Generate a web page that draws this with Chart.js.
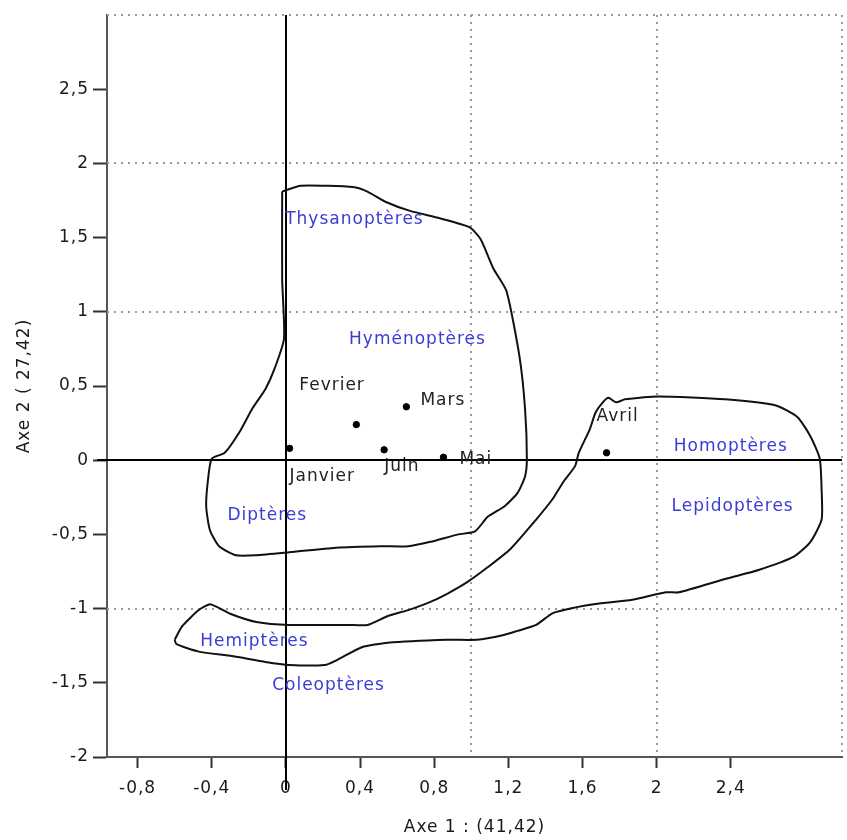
<!DOCTYPE html>
<html>
<head>
<meta charset="utf-8">
<script src="https://cdn.jsdelivr.net/npm/chart.js@4"></script>
<style>
  body { margin: 0; background: #fff; }
  #wrap { width: 847px; height: 840px; }
</style>
</head>
<body>
<div id="wrap"><canvas id="chart"></canvas></div>
<script>
// months (rows) - coordinates on axes 1 and 2
var months = ["Janvier", "Fevrier", "Mars", "Avril", "Mai", "Juin"];
var monthX = [0.02, 0.38, 0.65, 1.73, 0.85, 0.53];
var monthY = [0.08, 0.24, 0.36, 0.05, 0.02, 0.07];

// insect orders (columns)
var orders = ["Thysanoptères", "Hyménoptères", "Homoptères", "Lepidoptères", "Diptères", "Hemiptères", "Coleoptères"];
var orderX = [0.37, 0.71, 2.40, 2.41, -0.10, -0.17, 0.23];
var orderY = [1.62, 0.81, 0.09, -0.31, -0.37, -1.22, -1.52];

// outline of the first group
var hullAX = [-0.02, 0.08, 0.37, 0.44, 0.54, 0.67, 0.83, 0.99, 1.05, 1.12, 1.19, 1.26, 1.29, 1.30, 1.29, 1.25, 1.18, 1.09, 1.02, 0.93,
              0.78, 0.66, 0.51, 0.27, 0.02, -0.16, -0.27, -0.36, -0.41, -0.43, -0.42, -0.40, -0.33, -0.25, -0.18, -0.11, -0.06, -0.01, -0.02];
var hullAY = [1.81, 1.85, 1.84, 1.81, 1.74, 1.68, 1.63, 1.57, 1.49, 1.29, 1.14, 0.70, 0.35, 0.01, -0.11, -0.22, -0.31, -0.38, -0.48, -0.50,
              -0.55, -0.58, -0.58, -0.59, -0.62, -0.64, -0.64, -0.58, -0.47, -0.31, -0.13, 0.01, 0.05, 0.19, 0.35, 0.48, 0.62, 0.82, 1.22];

// outline of the second group
var hullBX = [-0.60, -0.56, -0.47, -0.41, -0.37, -0.29, -0.16, 0.02, 0.34, 0.44, 0.55, 0.66, 0.77, 0.87, 0.98, 1.09, 1.21, 1.35, 1.44, 1.50,
              1.56, 1.58, 1.64, 1.67, 1.71, 1.74, 1.78, 1.83, 2.01, 2.37, 2.64, 2.76, 2.83, 2.88, 2.89, 2.89, 2.83, 2.74, 2.55, 2.37,
              2.12, 2.05, 1.87, 1.66, 1.57, 1.44, 1.35, 1.25, 1.17, 1.03, 0.87, 0.55, 0.41, 0.27, 0.21, 0.02, -0.11, -0.29, -0.47, -0.59];
var hullBY = [-1.21, -1.12, -1.01, -0.97, -0.99, -1.04, -1.09, -1.11, -1.11, -1.11, -1.05, -1.01, -0.96, -0.90, -0.82, -0.72, -0.60, -0.40, -0.26, -0.14,
              -0.04, 0.05, 0.21, 0.32, 0.39, 0.42, 0.39, 0.41, 0.43, 0.41, 0.37, 0.29, 0.16, 0.01, -0.20, -0.40, -0.55, -0.65, -0.74, -0.80,
              -0.89, -0.89, -0.94, -0.97, -0.99, -1.03, -1.11, -1.15, -1.18, -1.21, -1.21, -1.23, -1.26, -1.35, -1.38, -1.38, -1.36, -1.32, -1.29, -1.24];

var xTicks = [-0.8, -0.4, 0, 0.4, 0.8, 1.2, 1.6, 2, 2.4];
var yTicks = [-2, -1.5, -1, -0.5, 0, 0.5, 1, 1.5, 2, 2.5];
var gridX = [1, 2, 3];
var gridY = [-1, 0, 1, 2, 3];
var xTitle = "Axe 1 : (41,42)";
var yTitle = "Axe 2 ( 27,42)";

function pts(xs, ys) {
    return xs.map(function (v, i) { return { x: v, y: ys[i] }; });
}
function closed(xs, ys) {
    var p = pts(xs, ys);
    p.push(p[0]);
    return p;
}
function fmt(v) {
    return String(v).replace(".", ",");
}

// where each month name sits relative to its dot (px)
var monthPos = {
    "Janvier": [0, 28], "Fevrier": [-57, -39], "Mars": [14, -6],
    "Avril": [-10, -36], "Mai": [16, 2], "Juin": [0, 17]
};

var gridPlugin = {
    id: "gridLines",
    beforeDraw: function (chart) {
        chart.ctx.letterSpacing = "1px";
    },
    beforeDatasetsDraw: function (chart) {
        var ctx = chart.ctx, a = chart.chartArea;
        var x = chart.scales.x, y = chart.scales.y;
        ctx.save();
        ctx.strokeStyle = "#999";
        ctx.lineWidth = 2;
        ctx.setLineDash([2, 5]);
        gridX.forEach(function (v) {
            var px = Math.round(x.getPixelForValue(v));
            ctx.beginPath(); ctx.moveTo(px, a.top); ctx.lineTo(px, a.bottom); ctx.stroke();
        });
        gridY.forEach(function (v) {
            var py = Math.round(y.getPixelForValue(v));
            ctx.beginPath(); ctx.moveTo(a.left, py); ctx.lineTo(a.right, py); ctx.stroke();
        });
        ctx.setLineDash([]);
        ctx.strokeStyle = "#000";
        var x0 = Math.round(x.getPixelForValue(0)), y0 = Math.round(y.getPixelForValue(0));
        ctx.beginPath(); ctx.moveTo(x0, a.top); ctx.lineTo(x0, a.bottom + 33); ctx.stroke();
        ctx.beginPath(); ctx.moveTo(a.left - 10, y0); ctx.lineTo(a.right, y0); ctx.stroke();
        ctx.restore();
    },
    afterDatasetsDraw: function (chart) {
        var ctx = chart.ctx;
        ctx.save();
        ctx.font = '17px "DejaVu Sans"';
        ctx.letterSpacing = "1px";
        ctx.textBaseline = "middle";
        ctx.textAlign = "center";
        ctx.fillStyle = "#3b3bd6";
        chart.getDatasetMeta(3).data.forEach(function (p, i) {
            ctx.fillText(orders[i], p.x, p.y);
        });
        ctx.textAlign = "left";
        ctx.fillStyle = "#222";
        chart.getDatasetMeta(2).data.forEach(function (p, i) {
            var o = monthPos[months[i]];
            ctx.fillText(months[i], p.x + o[0], p.y + o[1]);
        });
        ctx.restore();
    }
};

Chart.defaults.font.family = '"DejaVu Sans"';
Chart.defaults.font.size = 17;
Chart.defaults.color = "#1a1a1a";

new Chart(document.getElementById("chart"), {
    type: "scatter",
    data: {
        datasets: [{
            data: closed(hullAX, hullAY),
            showLine: true,
            borderColor: "#111",
            borderWidth: 2,
            pointRadius: 0,
            tension: 0.2
        }, {
            data: closed(hullBX, hullBY),
            showLine: true,
            borderColor: "#111",
            borderWidth: 2,
            pointRadius: 0,
            tension: 0.2
        }, {
            data: pts(monthX, monthY),
            pointRadius: 3.2,
            backgroundColor: "#000",
            borderColor: "#000"
        }, {
            data: pts(orderX, orderY),
            pointRadius: 0
        }]
    },
    options: {
        responsive: true,
        maintainAspectRatio: false,
        animation: false,
        layout: { padding: { top: 15, right: 0, bottom: 0, left: 0 } },
        plugins: {
            legend: { display: false },
            tooltip: { enabled: false }
        },
        scales: {
            x: {
                type: "linear",
                position: "bottom",
                min: -0.965,
                max: 3,
                afterBuildTicks: function (s) { s.ticks = xTicks.map(function (v) { return { value: v }; }); },
                afterFit: function (s) { s.height = 83; },
                ticks: { callback: fmt, padding: 10, maxRotation: 0, autoSkip: false },
                grid: { drawOnChartArea: false, tickLength: 11, tickColor: "#333", tickWidth: 2 },
                border: { color: "#555", width: 2 },
                title: { display: true, text: xTitle, padding: { top: 0, bottom: 2 } }
            },
            y: {
                type: "linear",
                min: -2,
                max: 3,
                afterBuildTicks: function (s) { s.ticks = yTicks.map(function (v) { return { value: v }; }); },
                afterFit: function (s) { s.width = 107; },
                ticks: { callback: fmt, padding: 4, autoSkip: false },
                grid: { drawOnChartArea: false, tickLength: 14, tickColor: "#333", tickWidth: 2 },
                border: { color: "#555", width: 2 },
                title: { display: true, text: yTitle, padding: { top: 14, bottom: 0 } }
            }
        }
    },
    plugins: [gridPlugin]
});
</script>
</body>
</html>
